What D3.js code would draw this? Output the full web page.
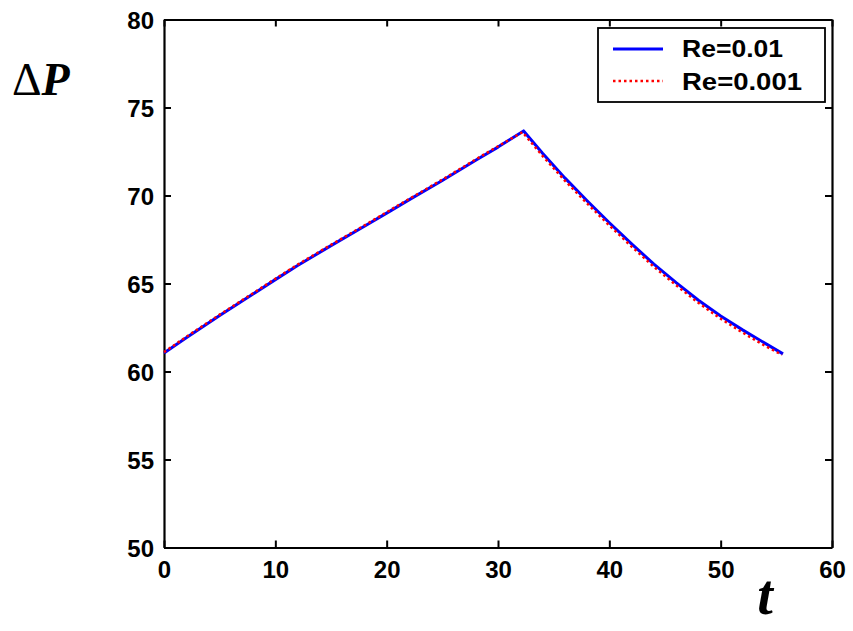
<!DOCTYPE html>
<html><head><meta charset="utf-8">
<script src="https://cdn.jsdelivr.net/npm/d3@7"></script>
<style>
html,body{margin:0;padding:0;background:#fff;}
svg{display:block;}
</style></head>
<body>
<script>
// Data
const timeRe01 = [0, 2, 5, 8, 10, 12, 15, 18, 20, 22, 25, 28, 30, 32.3, 34, 36, 38, 40, 42, 44, 46, 48, 50, 52, 54, 55.6];
const dpRe01   = [61.05, 61.92, 63.18, 64.4, 65.22, 66.02, 67.15, 68.25, 69.0, 69.75, 70.85, 72.0, 72.75, 73.67, 72.4, 71.0, 69.7, 68.45, 67.25, 66.1, 65.05, 64.05, 63.15, 62.35, 61.6, 61.0];
const timeRe001 = [0, 2, 5, 8, 10, 12, 15, 18, 20, 22, 25, 28, 30, 32.2, 34, 36, 38, 40, 42, 44, 46, 48, 50, 52, 54, 55.5];
const dpRe001   = [61.1, 61.97, 63.23, 64.45, 65.27, 66.07, 67.2, 68.3, 69.05, 69.8, 70.9, 72.05, 72.8, 73.6, 72.25, 70.85, 69.55, 68.3, 67.1, 65.95, 64.9, 63.9, 63.0, 62.2, 61.45, 60.95];
const xTicks = [0, 10, 20, 30, 40, 50, 60];
const yTicks = [50, 55, 60, 65, 70, 75, 80];
const legendLabels = ["Re=0.01", "Re=0.001"];

const W = 853, H = 631;
const L = 164, R = 832, T = 19.5, B = 547.5;

const svg = d3.select("body").append("svg").attr("width", W).attr("height", H);
svg.append("rect").attr("width", W).attr("height", H).attr("fill", "#fff");

const x = d3.scaleLinear().domain([0, 60]).range([L, R]);
const y = d3.scaleLinear().domain([50, 80]).range([B, T]);

const font = "'Liberation Sans', Arial, sans-serif";

const axB = svg.append("g").attr("transform", `translate(0,${B})`)
  .call(d3.axisBottom(x).tickValues(xTicks).tickSizeInner(-7).tickSizeOuter(0).tickPadding(14));
const axL = svg.append("g").attr("transform", `translate(${L},0)`)
  .call(d3.axisLeft(y).tickValues(yTicks).tickSizeInner(-7).tickSizeOuter(0).tickPadding(10));
const axT = svg.append("g").attr("transform", `translate(0,${T})`)
  .call(d3.axisTop(x).tickValues(xTicks).tickSizeInner(-7).tickSizeOuter(0).tickFormat(""));
const axR = svg.append("g").attr("transform", `translate(${R},0)`)
  .call(d3.axisRight(y).tickValues(yTicks).tickSizeInner(-7).tickSizeOuter(0).tickFormat(""));

[axB, axL, axT, axR].forEach(g => {
  g.selectAll(".domain").attr("stroke", "#000").attr("stroke-width", 2.2);
  g.selectAll(".tick line").attr("stroke", "#000").attr("stroke-width", 2);
  g.selectAll(".tick text").attr("fill", "#000")
    .style("font-family", font).style("font-weight", "bold").style("font-size", "24px");
});
axB.selectAll(".tick text").attr("dy", "0.71em").attr("y", 13);
axL.selectAll(".tick text").attr("dy", "0.36em");

const line = (xs, ys) => d3.line().x((d, i) => x(xs[i])).y((d, i) => y(ys[i]))(ys);
svg.append("path").attr("d", line(timeRe01, dpRe01))
  .attr("fill", "none").attr("stroke", "#0000ff").attr("stroke-width", 3)
  .attr("stroke-linejoin", "round");
svg.append("path").attr("d", line(timeRe001, dpRe001))
  .attr("fill", "none").attr("stroke", "#ff0000").attr("stroke-width", 2.5)
  .attr("stroke-dasharray", "2.5,3");

const lg = svg.append("g");
lg.append("rect").attr("x", 598).attr("y", 28).attr("width", 227).attr("height", 74)
  .attr("fill", "#fff").attr("stroke", "#000").attr("stroke-width", 1.8);
lg.append("line").attr("x1", 613).attr("x2", 663).attr("y1", 49).attr("y2", 49)
  .attr("stroke", "#0000ff").attr("stroke-width", 3);
lg.append("line").attr("x1", 613).attr("x2", 663).attr("y1", 81).attr("y2", 81)
  .attr("stroke", "#ff0000").attr("stroke-width", 2.5).attr("stroke-dasharray", "2.5,3");
lg.selectAll("text.lt").data(legendLabels).enter().append("text")
  .attr("x", 682).attr("y", (d, i) => 57 + i * 33)
  .style("font-family", font).style("font-weight", "bold").style("font-size", "24px")
  .attr("textLength", (d, i) => i === 0 ? 101 : 120).attr("lengthAdjust", "spacingAndGlyphs")
  .text(d => d);

const yl = svg.append("text").attr("x", 12).attr("y", 95)
  .style("font-family", "'Liberation Serif', 'Times New Roman', serif").style("font-size", "46px");
yl.append("tspan").text("Δ");
yl.append("tspan").style("font-weight", "bold").style("font-style", "italic").text("P");

svg.append("text").attr("x", 765).attr("y", 614).attr("text-anchor", "middle")
  .style("font-family", "'Liberation Serif', 'Times New Roman', serif")
  .style("font-weight", "bold").style("font-style", "italic").style("font-size", "56px")
  .text("t");
</script>
</body></html>
